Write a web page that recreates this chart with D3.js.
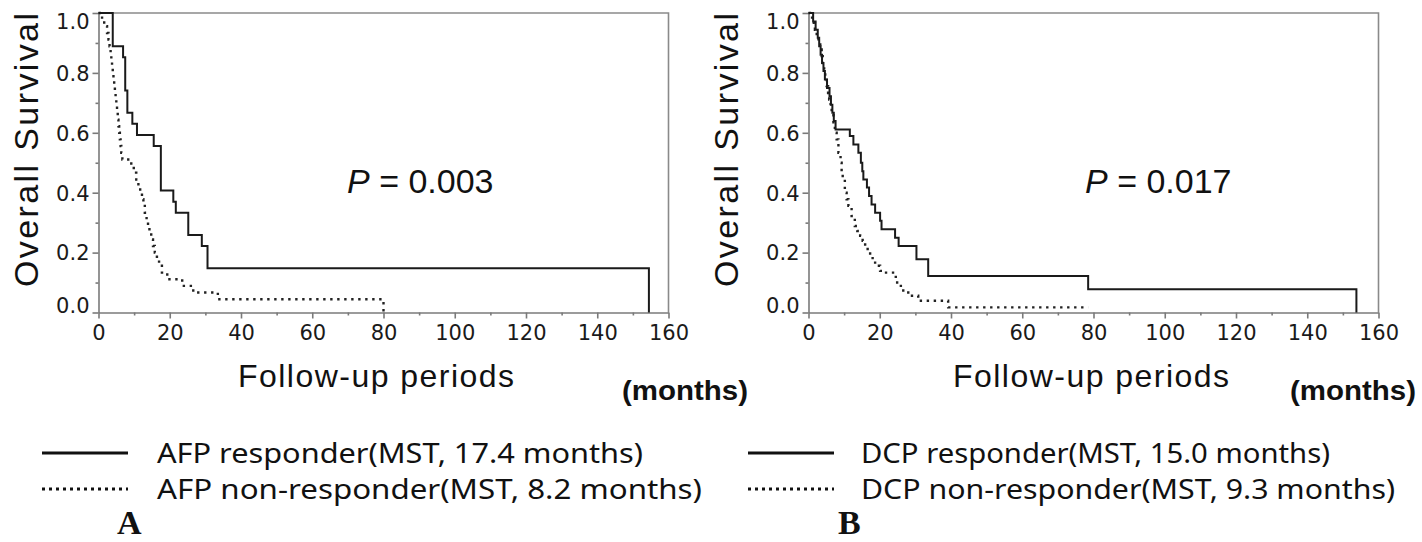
<!DOCTYPE html>
<html>
<head>
<meta charset="utf-8">
<style>
    body { margin: 0; background: #fff; }
    svg { display: block; }
    .tick text { font-family: 'DejaVu Sans', sans-serif; font-size: 21px; fill: #1a1a1a; }
    .axis path, .axis line { stroke: #7a7a7a; stroke-width: 1.6; }
</style>
</head>
<body>
<svg width="1422" height="542"></svg>

<script src="https://d3js.org/d3.v7.min.js"></script>
<script>
    // ---- data: [month, survival] step points ----
    const xTicks = [0, 20, 40, 60, 80, 100, 120, 140, 160];
    const xMinor = [10, 30, 50, 70, 90, 110, 130, 150];
    const yTicks = [0, 0.2, 0.4, 0.6, 0.8, 1.0];
    const yMinor = [0.1, 0.3, 0.5, 0.7, 0.9];

    const afpResponder = [
        [0, 1], [4.0, 0.889], [6.9, 0.852], [7.5, 0.741], [8.1, 0.667], [9.5, 0.630],
        [10.8, 0.593], [15.5, 0.556], [17.5, 0.407], [21.0, 0.370], [21.7, 0.333],
        [25.2, 0.259], [29.0, 0.222], [30.6, 0.148], [154.5, 0]
    ];
    const afpNonResponder = [
        [0, 1], [1.0, 0.978], [1.6, 0.956], [2.4, 0.933], [2.8, 0.911], [3.1, 0.889],
        [3.4, 0.867], [3.6, 0.844], [3.8, 0.822], [4.0, 0.800], [4.2, 0.778], [4.4, 0.756],
        [4.6, 0.733], [4.8, 0.711], [5.0, 0.689], [5.2, 0.667], [5.4, 0.644], [5.6, 0.622],
        [5.8, 0.600], [6.0, 0.578], [6.2, 0.556], [6.4, 0.533], [6.7, 0.511], [9.2, 0.489],
        [9.9, 0.467], [10.6, 0.444], [11.2, 0.422], [11.7, 0.400], [12.2, 0.378], [12.6, 0.356],
        [13.0, 0.333], [13.5, 0.311], [13.9, 0.289], [14.3, 0.267], [14.8, 0.244], [15.3, 0.222],
        [15.8, 0.200], [16.4, 0.178], [17.0, 0.156], [17.8, 0.133], [19.3, 0.111], [23.5, 0.089],
        [26.6, 0.067], [33.5, 0.044], [80.0, 0]
    ];
    const dcpResponder = [
        [0, 1], [1.3, 0.972], [2.0, 0.944], [2.6, 0.917], [3.0, 0.889], [3.4, 0.861],
        [3.8, 0.833], [4.2, 0.806], [4.6, 0.778], [5.2, 0.750], [5.9, 0.722], [6.3, 0.694],
        [6.7, 0.667], [7.1, 0.639], [7.6, 0.611], [11.6, 0.589], [12.6, 0.561], [14.0, 0.533],
        [14.7, 0.500], [15.1, 0.472], [15.4, 0.444], [16.4, 0.417], [17.0, 0.389], [17.7, 0.361],
        [18.7, 0.333], [20.1, 0.306], [20.5, 0.278], [24.3, 0.250], [25.3, 0.222], [30.3, 0.178],
        [33.6, 0.122], [78.5, 0.078], [153.8, 0]
    ];
    const dcpNonResponder = [
        [0, 1], [0.4, 0.989], [1.0, 0.967], [1.8, 0.944], [2.3, 0.922], [2.8, 0.900],
        [3.3, 0.878], [3.7, 0.856], [4.0, 0.833], [4.4, 0.811], [4.7, 0.789], [5.1, 0.756],
        [5.5, 0.733], [5.8, 0.711], [6.2, 0.689], [6.5, 0.667], [7.0, 0.628], [7.4, 0.600],
        [7.9, 0.578], [8.4, 0.533], [9.0, 0.500], [9.3, 0.467], [9.6, 0.444], [10.2, 0.400],
        [10.7, 0.378], [11.2, 0.356], [12.1, 0.322], [13.0, 0.289], [13.7, 0.272], [14.5, 0.256],
        [15.2, 0.239], [15.9, 0.222], [16.6, 0.206], [17.3, 0.189], [18.0, 0.172], [18.7, 0.156],
        [20.1, 0.139], [21.0, 0.133], [24.5, 0.100], [25.3, 0.089], [26.6, 0.067], [28.5, 0.056],
        [30.8, 0.039], [39.2, 0.017], [78.5, 0.017]
    ];

    const pValues = ["0.003", "0.017"];
    const panelLetters = ["A", "B"];
    const legendA = ["AFP responder(MST, 17.4 months)", "AFP non-responder(MST, 8.2 months)"];
    const legendB = ["DCP responder(MST, 15.0 months)", "DCP non-responder(MST, 9.3 months)"];

    // ---- layout ----
    const panels = [
        { left: 98.5, series: [afpResponder, afpNonResponder], p: pValues[0], legend: legendA,
          letter: panelLetters[0], pX: 347, titleX: 38, followX: 238, monthsX: 622,
          legX: 42, legTextX: 157, legW: [486, 545], letterX: 117 },
        { left: 808.5, series: [dcpResponder, dcpNonResponder], p: pValues[1], legend: legendB,
          letter: panelLetters[1], pX: 1085, titleX: 738, followX: 953, monthsX: 1290,
          legX: 748, legTextX: 861, legW: [469, 534], letterX: 838 }
    ];
    const plotW = 570, plotTop = 13, plotBottom = 312.5;

    let svg = d3.select("svg");

    panels.forEach(pn => {
        let x = d3.scaleLinear().domain([0, 160]).range([pn.left, pn.left + plotW]);
        let y = d3.scaleLinear().domain([0, 1]).range([plotBottom, plotTop]);

        let g = svg.append("g");

        // frame top + right
        g.append("path")
            .attr("d", `M${x(0)},${y(1)}H${x(160)}V${y(0)}`)
            .style("fill", "none")
            .style("stroke", "#8a8a8a")
            .style("stroke-width", 1.6);

        // minor ticks
        g.append("g").attr("class", "axis")
            .attr("transform", `translate(0,${plotBottom})`)
            .call(d3.axisBottom(x).tickValues(xMinor).tickSize(3).tickFormat(""))
            .select(".domain").remove();
        g.append("g").attr("class", "axis")
            .attr("transform", `translate(${pn.left},0)`)
            .call(d3.axisLeft(y).tickValues(yMinor).tickSize(3).tickFormat(""))
            .select(".domain").remove();

        g.append("g").attr("class", "axis")
            .attr("transform", `translate(0,${plotBottom})`)
            .call(d3.axisBottom(x).tickValues(xTicks).tickSize(6).tickPadding(7).tickSizeOuter(0).tickFormat(d3.format("d")));

        let ya = g.append("g").attr("class", "axis")
            .attr("transform", `translate(${pn.left},0)`)
            .call(d3.axisLeft(y).tickValues(yTicks).tickSize(6).tickPadding(3).tickSizeOuter(0).tickFormat(d3.format(".1f")));
        ya.selectAll("text").attr("dy", d => d === 1 ? "0.72em" : d === 0 ? "-0.02em" : "0.35em");

        // curves
        let line = d3.line()
            .x(d => x(d[0]))
            .y(d => y(d[1]))
            .curve(d3.curveStepAfter);

        g.append("path")
            .datum(pn.series[1])
            .attr("d", line)
            .style("fill", "none")
            .style("stroke", "#222")
            .style("stroke-width", 2.4)
            .style("stroke-dasharray", "2.4,4.6");

        g.append("path")
            .datum(pn.series[0])
            .attr("d", line)
            .style("fill", "none")
            .style("stroke", "#1a1a1a")
            .style("stroke-width", 2);

        // y title
        g.append("text")
            .attr("transform", `translate(${pn.titleX},150) rotate(-90)`)
            .attr("text-anchor", "middle")
            .attr("textLength", 274)
            .style("font-family", "'Liberation Sans', Arial, sans-serif")
            .style("font-size", "34px")
            .style("fill", "#111")
            .text("Overall Survival");

        // x titles
        g.append("text")
            .attr("x", pn.followX).attr("y", 387)
            .attr("textLength", 276)
            .style("font-family", "'Liberation Sans', Arial, sans-serif")
            .style("font-size", "32px")
            .style("fill", "#111")
            .text("Follow-up periods");

        g.append("text")
            .attr("x", pn.monthsX).attr("y", 400)
            .attr("textLength", 126)
            .attr("lengthAdjust", "spacingAndGlyphs")
            .style("font-family", "'Liberation Sans', Arial, sans-serif")
            .style("font-size", "28px")
            .style("font-weight", "bold")
            .style("fill", "#111")
            .text("(months)");

        // p value
        let pt = g.append("text")
            .attr("x", pn.pX).attr("y", 193)
            .style("font-family", "'Liberation Sans', Arial, sans-serif")
            .style("font-size", "34px")
            .style("fill", "#111");
        pt.append("tspan").style("font-style", "italic").text("P");
        pt.append("tspan").text(" = " + pn.p);

        // legend
        let lg = svg.append("g");
        [453, 489].forEach((ly, i) => {
            lg.append("line")
                .attr("x1", pn.legX).attr("x2", pn.legX + 86)
                .attr("y1", ly).attr("y2", ly)
                .style("stroke", "#111")
                .style("stroke-width", i === 0 ? 3.2 : 3)
                .style("stroke-dasharray", i === 0 ? null : "3,4");
            lg.append("text")
                .attr("x", pn.legTextX).attr("y", ly + 10)
                .attr("textLength", pn.legW[i])
                .attr("lengthAdjust", "spacingAndGlyphs")
                .style("font-family", "'Noto Sans', sans-serif")
                .style("font-size", "28px")
                .style("fill", "#111")
                .text(pn.legend[i]);
        });

        lg.append("text")
            .attr("x", pn.letterX).attr("y", 534)
            .style("font-family", "'Liberation Serif', 'Times New Roman', serif")
            .style("font-size", "34px")
            .style("font-weight", "bold")
            .style("fill", "#111")
            .text(pn.letter);
    });
</script>
</body>
</html>
